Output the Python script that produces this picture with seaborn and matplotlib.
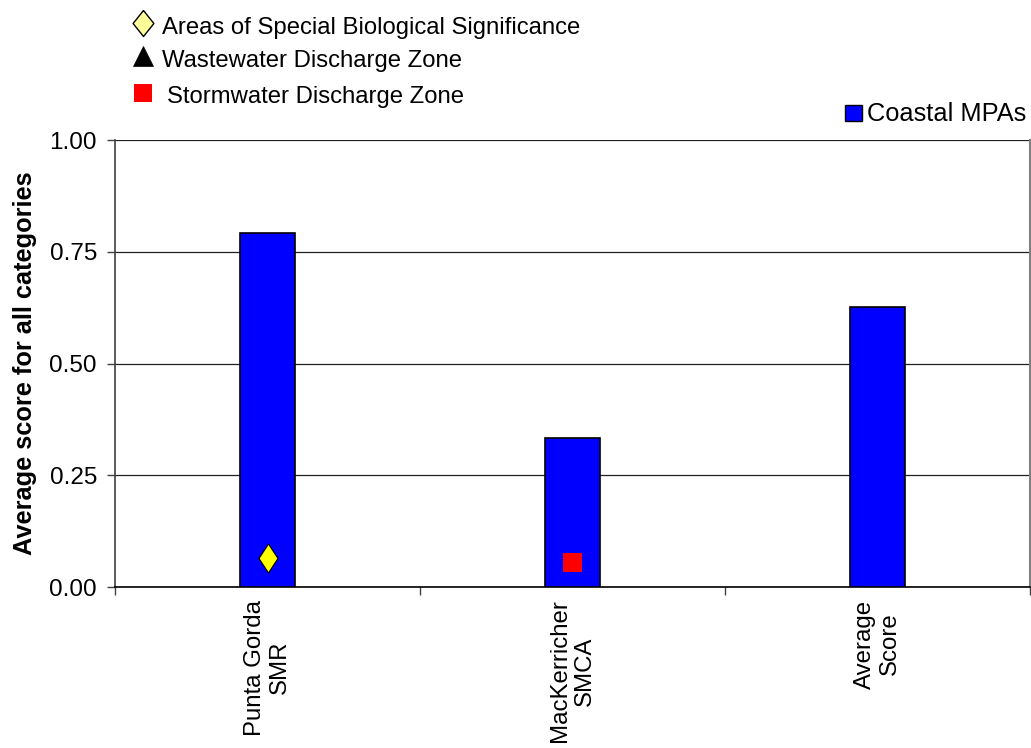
import matplotlib
matplotlib.use("Agg")
import matplotlib.pyplot as plt
from matplotlib.lines import Line2D
from matplotlib.patches import Rectangle
import seaborn as sns
import pandas as pd

# ---- data ----
categories = ["Punta Gorda\nSMR", "MacKerricher\nSMCA", "Average\nScore"]
scores = [0.793, 0.333, 0.626]
asbs_cats = ["Punta Gorda\nSMR"]
asbs_vals = [0.065]
storm_cats = ["MacKerricher\nSMCA"]
storm_vals = [0.054]
yticks = [0.00, 0.25, 0.50, 0.75, 1.00]
legend_labels = ["Areas of Special Biological Significance",
                 "Wastewater Discharge Zone",
                 "Stormwater Discharge Zone"]
series_label = "Coastal MPAs"

sns.set_theme(style="white")
plt.rcParams["font.family"] = ["Liberation Sans", "DejaVu Sans"]
for k in ["text.color", "axes.labelcolor", "xtick.color", "ytick.color"]:
    plt.rcParams[k] = "black"

W, H = 1031, 748
fig = plt.figure(figsize=(W / 100, H / 100), dpi=100)
ax = fig.add_axes([115 / W, 1 - 587 / H, (1030 - 115) / W, (587 - 140) / H])

thin_diamond = [(0, 1), (0.655, 0), (0, -1), (-0.655, 0), (0, 1)]
leg_diamond = [(0, 1), (0.8, 0), (0, -1), (-0.8, 0), (0, 1)]

df = pd.DataFrame({"cat": categories, "score": scores})
sns.barplot(data=df, x="cat", y="score", order=categories, color="#0000FF",
            saturation=1, width=0.18, edgecolor="black", linewidth=1.2, ax=ax,
            zorder=3)

ax.scatter([categories.index(c) for c in asbs_cats], asbs_vals,
           marker=thin_diamond, s=(29 / 1.389) ** 2, color="#FFFF00",
           edgecolor="black", linewidth=0.8, zorder=5)
ax.scatter([categories.index(c) for c in storm_cats], storm_vals, marker="s",
           s=(19 / 1.389) ** 2, color="#FF0000", edgecolor="none", zorder=5)

ax.set_xlim(-0.5, 2.5)
ax.set_ylim(0, 1.0)
ax.set_yticks(yticks)
ax.set_yticklabels([f"{v:.2f}" for v in yticks], fontsize=17.5)
ax.grid(axis="y", color="#202020", linewidth=0.9, zorder=0)
ax.set_axisbelow(True)

ax.set_xticks(range(len(categories)))
ax.set_xticklabels(categories, rotation=90, fontsize=17.3, ha="center",
                   va="top", multialignment="center")
ax.set_xticks([-0.5, 0.5, 1.5, 2.5], minor=True)
ax.tick_params(axis="x", which="major", length=0, pad=9)
ax.tick_params(axis="x", which="minor", length=6, width=1, color="#404040",
               direction="out", bottom=True)
ax.tick_params(axis="y", which="major", length=6, width=1, color="#404040",
               direction="out", left=True, pad=7)

ax.set_xlabel("")
ax.set_ylabel("Average score for all categories", fontsize=18.3,
              fontweight="bold", labelpad=9)

ax.spines["top"].set_visible(False)
ax.spines["left"].set_color("#404040")
ax.spines["left"].set_linewidth(1.2)
ax.spines["bottom"].set_color("black")
ax.spines["bottom"].set_linewidth(1.2)
ax.spines["right"].set_color("#808080")
ax.spines["right"].set_linewidth(1.5)


def fx(px):
    return px / W


def fy(py):
    return 1 - py / H


# top-left marker legend (placed in figure pixels)
leg_markers = [
    dict(marker=leg_diamond, markersize=26 / 1.389, markerfacecolor="#FFFF99",
         markeredgecolor="black", markeredgewidth=1.0, y=22.5),
    dict(marker="^", markersize=20 / 1.389, markerfacecolor="black",
         markeredgecolor="black", markeredgewidth=0.5, y=56),
    dict(marker="s", markersize=18 / 1.389, markerfacecolor="#FF0000",
         markeredgecolor="none", markeredgewidth=0, y=92.5),
]
text_pos = [(162, 34), (162, 67), (167, 103)]
for m, lab, (tx, ty) in zip(leg_markers, legend_labels, text_pos):
    y = m.pop("y")
    fig.add_artist(Line2D([fx(143)], [fy(y)], linestyle="none",
                          transform=fig.transFigure, **m))
    fig.text(fx(tx), fy(ty), lab, fontsize=17.2, ha="left", va="baseline")

# series legend
fig.add_artist(Rectangle((fx(845), fy(121)), 17 / W, 16 / H,
                         transform=fig.transFigure, facecolor="#0000FF",
                         edgecolor="black", linewidth=1.0))
fig.text(fx(867), fy(121), series_label, fontsize=18.3, ha="left",
         va="baseline")

fig.savefig("out.png", dpi=100)
